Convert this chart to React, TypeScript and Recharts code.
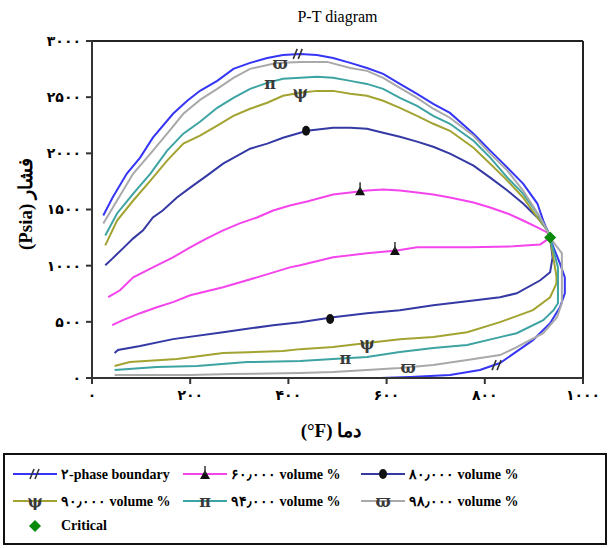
import * as React from "react";
import { ComposedChart, Line, Scatter, XAxis, YAxis, ReferenceLine } from "recharts";

// P-T diagram: two-phase envelope plus liquid-volume quality lines, all meeting at the critical point.
// Every curve is stored as [T (°F), P (psia)] pairs.

const boundary: [number, number][] = [
  [23, 1447], [42, 1607], [71, 1820], [98, 1962], [124, 2139], [165, 2352], [194, 2468], [220, 2557],
  [255, 2645], [288, 2752], [322, 2805], [357, 2849], [389, 2876], [424, 2885], [458, 2876], [491, 2849],
  [526, 2805], [560, 2760], [593, 2707], [627, 2619], [662, 2530], [695, 2441], [729, 2360], [777, 2175],
  [811, 2024], [846, 1873], [878, 1731], [907, 1553], [919, 1402], [933, 1250], [940, 1163], [953, 1021],
  [963, 896], [963, 754], [953, 630], [933, 488], [898, 337], [831, 133], [790, 71], [729, 27],
  [648, 9], [587, 0], [205, 0],
];

const vol60: [number, number][] = [
  [33, 719], [57, 781], [84, 896], [124, 985], [165, 1074], [200, 1163], [234, 1243], [267, 1314],
  [301, 1376], [336, 1429], [369, 1491], [403, 1536], [438, 1571], [491, 1633], [526, 1651], [560, 1669],
  [593, 1678], [627, 1669], [662, 1651], [695, 1633], [729, 1607], [777, 1562], [811, 1518], [846, 1465],
  [878, 1402], [907, 1340], [927, 1296], [933, 1250], [913, 1189], [858, 1172], [770, 1163], [662, 1163],
  [621, 1136], [560, 1110], [491, 1074], [424, 1003], [403, 985], [336, 896], [267, 808], [200, 737],
  [165, 675], [132, 630], [98, 577], [63, 515], [41, 470],
];

const vol80: [number, number][] = [
  [27, 1003], [42, 1065], [63, 1154], [84, 1243], [104, 1314], [124, 1429], [144, 1491], [173, 1607],
  [200, 1695], [234, 1802], [267, 1908], [322, 2041], [357, 2086], [389, 2139], [438, 2201], [491, 2228],
  [526, 2228], [560, 2219], [593, 2183], [627, 2148], [662, 2104], [695, 2059], [729, 1997], [777, 1891],
  [811, 1784], [846, 1669], [878, 1553], [907, 1429], [927, 1322], [933, 1250], [938, 1074], [933, 941],
  [913, 870], [865, 754], [831, 719], [764, 683], [695, 648], [627, 604], [560, 577], [491, 541],
  [424, 497], [369, 470], [267, 408], [165, 346], [98, 284], [53, 249], [46, 222],
];

const vol90: [number, number][] = [
  [27, 1181], [51, 1402], [84, 1580], [119, 1757], [153, 1935], [186, 2086], [220, 2157], [255, 2246],
  [288, 2334], [322, 2397], [357, 2450], [389, 2512], [424, 2539], [458, 2556], [491, 2556], [526, 2530],
  [560, 2512], [593, 2468], [627, 2405], [662, 2334], [695, 2263], [729, 2201], [777, 2050], [811, 1908],
  [846, 1757], [878, 1607], [907, 1429], [927, 1314], [933, 1250], [946, 900], [946, 843], [933, 719],
  [898, 604], [831, 497], [764, 408], [695, 364], [627, 346], [560, 311], [491, 275], [424, 257],
  [389, 240], [267, 222], [173, 169], [77, 142], [46, 107],
];

const vol94: [number, number][] = [
  [27, 1269], [51, 1465], [84, 1642], [119, 1820], [153, 2024], [186, 2175], [220, 2281], [255, 2405],
  [288, 2494], [322, 2574], [357, 2627], [389, 2663], [424, 2672], [458, 2681], [491, 2672], [526, 2645],
  [560, 2618], [593, 2574], [627, 2494], [662, 2423], [695, 2334], [729, 2263], [777, 2112], [811, 1962],
  [846, 1784], [878, 1642], [907, 1465], [927, 1314], [933, 1250], [949, 985], [949, 666], [940, 604],
  [919, 515], [865, 399], [831, 364], [764, 293], [695, 266], [627, 231], [560, 186], [491, 169],
  [424, 151], [316, 142], [214, 107], [132, 98], [46, 71],
];

const vol98: [number, number][] = [
  [23, 1376], [51, 1580], [84, 1820], [119, 1997], [153, 2175], [186, 2352], [220, 2476], [255, 2574],
  [288, 2672], [322, 2752], [376, 2805], [424, 2814], [479, 2814], [526, 2760], [560, 2734], [593, 2672],
  [627, 2583], [662, 2494], [695, 2397], [729, 2317], [777, 2157], [811, 1997], [846, 1846], [878, 1669],
  [913, 1429], [927, 1314], [933, 1250], [957, 1110], [957, 666], [947, 541], [919, 399], [865, 275],
  [831, 204], [764, 160], [695, 115], [627, 89], [560, 71], [491, 53], [424, 44], [282, 36],
  [200, 27], [46, 27],
];

// marker spots on each curve
const boundaryMarks: [number, number][] = [[420, 2885], [825, 115]];
const vol60Marks: [number, number][] = [[546, 1672], [617, 1140]];
const vol80Marks: [number, number][] = [[436, 2201], [485, 525]];
const vol90Marks: [number, number][] = [[424, 2539], [560, 305]];
const vol94Marks: [number, number][] = [[363, 2625], [516, 178]];
const vol98Marks: [number, number][] = [[383, 2800], [644, 95]];
const criticalPoint: [number, number][] = [[933, 1250]];

const xTicks = [0, 200, 400, 600, 800, 1000];
const yTicks = [0, 500, 1000, 1500, 2000, 2500, 3000];

const FA_DIGITS = "۰۱۲۳۴۵۶۷۸۹";
const fa = (v: number | string) => String(v).replace(/\d/g, (d) => FA_DIGITS[+d]);

const toPts = (arr: [number, number][]) => arr.map(([t, p]) => ({ t, p }));

type Kind = "slash" | "tri" | "dot" | "psi" | "pi" | "varpi" | "diamond";

const SERIES: { name: string; color: string; kind: Kind; data: [number, number][]; marks: [number, number][] }[] = [
  { name: "۲-phase boundary", color: "#3535f5", kind: "slash", data: boundary, marks: boundaryMarks },
  { name: `${fa(60)}٫${fa("000")} volume %`, color: "#f444ec", kind: "tri", data: vol60, marks: vol60Marks },
  { name: `${fa(80)}٫${fa("000")} volume %`, color: "#3439a4", kind: "dot", data: vol80, marks: vol80Marks },
  { name: `${fa(90)}٫${fa("000")} volume %`, color: "#a3a332", kind: "psi", data: vol90, marks: vol90Marks },
  { name: `${fa(94)}٫${fa("000")} volume %`, color: "#3ea3a3", kind: "pi", data: vol94, marks: vol94Marks },
  { name: `${fa(98)}٫${fa("000")} volume %`, color: "#a9a9a9", kind: "varpi", data: vol98, marks: vol98Marks },
];

const SERIF = "'Liberation Serif', 'DejaVu Serif', serif";

function Glyph({ kind, x, y }: { kind: Kind; x: number; y: number }) {
  const txt = (ch: string) => (
    <text x={x} y={y} textAnchor="middle" dominantBaseline="central" fontSize={16} fontWeight="bold"
      fill="#3a3a3a" fontFamily="'DejaVu Serif', serif">{ch}</text>
  );
  switch (kind) {
    case "slash":
      return (
        <g stroke="#333" strokeWidth={1.6}>
          <line x1={x - 5} y1={y + 5} x2={x - 1} y2={y - 5} />
          <line x1={x} y1={y + 5} x2={x + 4} y2={y - 5} />
        </g>
      );
    case "tri":
      return (
        <g>
          <polygon points={`${x - 5},${y + 5} ${x + 5},${y + 5} ${x},${y - 4}`} fill="#111" />
          <line x1={x} y1={y - 8} x2={x} y2={y} stroke="#333" strokeWidth={1.5} />
        </g>
      );
    case "dot":
      return <ellipse cx={x} cy={y} rx={4} ry={5} fill="#111" />;
    case "psi":
      return txt("ψ");
    case "pi":
      return txt("π");
    case "varpi":
      return txt("ϖ");
    case "diamond":
      return <polygon points={`${x},${y - 6} ${x + 6},${y} ${x},${y + 6} ${x - 6},${y}`} fill="#0a8a0a" />;
  }
}

function LegendItem({ left, top, color, kind, label }: { left: number; top: number; color?: string; kind: Kind; label: string }) {
  return (
    <div style={{ position: "absolute", left, top, display: "flex", alignItems: "center", height: 18 }}>
      <svg width={44} height={18} style={{ marginRight: 4 }}>
        {color && <line x1={0} y1={9} x2={44} y2={9} stroke={color} strokeWidth={2} />}
        <Glyph kind={kind} x={22} y={9} />
      </svg>
      <span style={{ fontFamily: SERIF, fontWeight: "bold", fontSize: 14, whiteSpace: "nowrap" }}>{label}</span>
    </div>
  );
}

export default function App() {
  const tickStyle = { fontSize: 14, fontWeight: "bold", fill: "#000", fontFamily: "'DejaVu Sans', sans-serif" };
  const legendPos = [
    [8, 12], [178, 12], [356, 12],
    [8, 39], [178, 39], [356, 39],
  ];
  return (
    <div style={{ position: "absolute", left: 0, top: 0, width: 610, height: 548, background: "#fff" }}>
      <div style={{ position: "absolute", left: 92, width: 491, top: 8, textAlign: "center", fontFamily: SERIF, fontSize: 16 }}>
        P-T diagram
      </div>
      <ComposedChart width={610} height={450} margin={{ top: 41, right: 27, left: 0, bottom: 0 }}>
        <XAxis
          type="number"
          dataKey="t"
          domain={[0, 1000]}
          ticks={xTicks}
          tickFormatter={fa}
          tick={tickStyle}
          tickSize={6}
          tickMargin={6}
          height={72}
          axisLine={{ stroke: "#333", strokeWidth: 2 }}
          tickLine={{ stroke: "#333", strokeWidth: 2 }}
          allowDuplicatedCategory={false}
        />
        <YAxis
          type="number"
          dataKey="p"
          domain={[0, 3000]}
          ticks={yTicks}
          tickFormatter={fa}
          tick={tickStyle}
          tickSize={6}
          tickMargin={5}
          width={92}
          axisLine={{ stroke: "#333", strokeWidth: 2 }}
          tickLine={{ stroke: "#333", strokeWidth: 2 }}
        />
        <ReferenceLine y={3000} stroke="#222" strokeWidth={2} />
        <ReferenceLine x={1000} stroke="#222" strokeWidth={2} />
        {SERIES.map((s) => (
          <Line
            key={s.name}
            data={toPts(s.data)}
            dataKey="p"
            type="linear"
            stroke={s.color}
            strokeWidth={2}
            dot={false}
            activeDot={false}
            isAnimationActive={false}
          />
        ))}
        {SERIES.map((s) => (
          <Scatter
            key={"m" + s.name}
            data={toPts(s.marks)}
            dataKey="p"
            isAnimationActive={false}
            shape={(props: any) => <Glyph kind={s.kind} x={props.cx} y={props.cy} />}
          />
        ))}
        <Scatter
          data={toPts(criticalPoint)}
          dataKey="p"
          isAnimationActive={false}
          shape={(props: any) => <Glyph kind="diamond" x={props.cx} y={props.cy} />}
        />
      </ComposedChart>
      <svg width={610} height={548} style={{ position: "absolute", left: 0, top: 0, pointerEvents: "none" }}>
        <text x={25} y={204} transform="rotate(-90, 25, 204)" textAnchor="middle" dominantBaseline="central"
          fontFamily={SERIF} fontWeight="bold" fontSize={19}>(Psia) فشار</text>
        <text x={331} y={430} textAnchor="middle" dominantBaseline="central"
          fontFamily={SERIF} fontWeight="bold" fontSize={19}>(°F) دما</text>
      </svg>
      <div style={{ position: "absolute", left: 3, top: 453, width: 604, height: 92, boxSizing: "border-box", border: "2px solid #111" }}>
        {SERIES.map((s, i) => (
          <LegendItem key={s.name} left={legendPos[i][0]} top={legendPos[i][1] - 2} color={s.color} kind={s.kind} label={s.name} />
        ))}
        <LegendItem left={8} top={62} kind="diamond" label="Critical" />
      </div>
    </div>
  );
}
